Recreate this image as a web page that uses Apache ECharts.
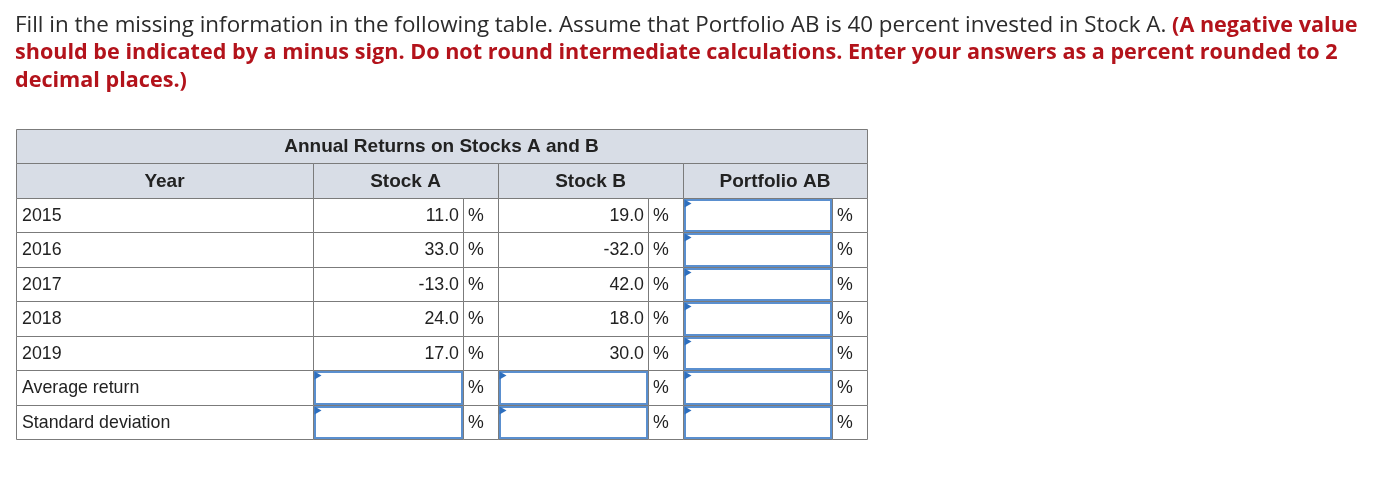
<!DOCTYPE html>
<html>
<head>
<meta charset="utf-8">
<script src="https://cdn.jsdelivr.net/npm/echarts@6/dist/echarts.min.js"></script>
<style>
  html, body { margin: 0; padding: 0; background: #fff; }
  #chart { width: 1396px; height: 486px; }
</style>
</head>
<body>
<div id="chart"></div>
<script>
// table content
const tableTitle = 'Annual Returns on Stocks A and B';
const colHeaders = ['Year', 'Stock A', 'Stock B', 'Portfolio AB'];
const years = ['2015', '2016', '2017', '2018', '2019'];
const stockA = [11.0, 33.0, -13.0, 24.0, 17.0];
const stockB = [19.0, -32.0, 42.0, 18.0, 30.0];
const summaryRows = ['Average return', 'Standard deviation'];
const unit = '%';

// layout: column widths (label, A value, %, B value, %, AB value, %)
const colWidths = [297, 150, 35, 150, 35, 149, 35];
const colEdges = [0];
colWidths.forEach(w => colEdges.push(colEdges[colEdges.length - 1] + w));

const rowNames = ['title', 'head'].concat(years, summaryRows);

// build cells: [colStart, colEnd, rowIndex, text, kind]
const cells = [];
cells.push([0, 7, 0, tableTitle, 'head']);
cells.push([0, 1, 1, colHeaders[0], 'head']);
cells.push([1, 3, 1, colHeaders[1], 'head']);
cells.push([3, 5, 1, colHeaders[2], 'head']);
cells.push([5, 7, 1, colHeaders[3], 'head']);
years.forEach((y, i) => {
  const r = i + 2;
  cells.push([0, 1, r, y, 'label']);
  cells.push([1, 2, r, stockA[i].toFixed(1), 'num']);
  cells.push([2, 3, r, unit, 'pct']);
  cells.push([3, 4, r, stockB[i].toFixed(1), 'num']);
  cells.push([4, 5, r, unit, 'pct']);
  cells.push([5, 6, r, '', 'input']);
  cells.push([6, 7, r, unit, 'pct']);
});
summaryRows.forEach((s, i) => {
  const r = i + 2 + years.length;
  cells.push([0, 1, r, s, 'label']);
  cells.push([1, 2, r, '', 'input']);
  cells.push([2, 3, r, unit, 'pct']);
  cells.push([3, 4, r, '', 'input']);
  cells.push([4, 5, r, unit, 'pct']);
  cells.push([5, 6, r, '', 'input']);
  cells.push([6, 7, r, unit, 'pct']);
});

const tableFont = '"Liberation Sans", Arial, sans-serif';
const px = v => Math.round(v) + 0.5;

function renderCell(params, api) {
  const c = cells[params.dataIndex];
  const x0 = api.coord([colEdges[c[0]], c[2]])[0];
  const x1 = api.coord([colEdges[c[1]], c[2]])[0];
  const yc = api.coord([0, c[2]])[1];
  const h = api.size([0, 1])[1];
  const y0 = yc - h / 2;
  const kind = c[4];
  const left = px(x0), top = px(y0);
  const w = Math.round(x1) - Math.round(x0), hh = Math.round(y0 + h) - Math.round(y0);
  const children = [{
    type: 'rect',
    shape: { x: left, y: top, width: w, height: hh },
    style: { fill: kind === 'head' ? '#d8dde6' : '#fff', stroke: '#7b7b7b', lineWidth: 1 }
  }];
  if (kind === 'input') {
    children.push({
      type: 'rect',
      shape: { x: left + 1.5, y: top + 1.5, width: w - 3, height: hh - 3 },
      style: { fill: '#fff', stroke: '#5a8fcf', lineWidth: 2 }
    });
    children.push({
      type: 'polygon',
      shape: { points: [[left + 1, top + 1], [left + 8, top + 5], [left + 1, top + 9]] },
      style: { fill: '#2e6fbe' }
    });
  } else {
    let tx = (x0 + x1) / 2, align = 'center';
    if (kind === 'label') { tx = x0 + 6; align = 'left'; }
    if (kind === 'num') { tx = x1 - 4; align = 'right'; }
    if (kind === 'pct') { tx = x0 + 5; align = 'left'; }
    children.push({
      type: 'text',
      style: {
        x: tx, y: yc + 1, text: c[3], align: align, verticalAlign: 'middle',
        fill: '#222',
        font: kind === 'head' ? 'bold 19px ' + tableFont : '17.8px ' + tableFont
      }
    });
  }
  return { type: 'group', children: children };
}

const chart = echarts.init(document.getElementById('chart'));
chart.setOption({
  animation: false,
  title: {
    left: 10,
    top: 7,
    text: '{n|Fill in the missing information in the following table. Assume that Portfolio AB is 40 percent invested in Stock A. }{r|(A negative value}\n{r|should be indicated by a minus sign. Do not round intermediate calculations. Enter your answers as a percent rounded to 2}\n{r|decimal places.)}',
    textStyle: {
      fontWeight: 'normal',
      rich: {
        n: { color: '#2b2b2b', fontSize: 22.4, fontWeight: 'normal', fontFamily: '"Open Sans", sans-serif', lineHeight: 27.5 },
        r: { color: '#b3131b', fontSize: 21.6, fontWeight: 'bold', fontFamily: '"Open Sans", sans-serif', lineHeight: 27.5 }
      }
    }
  },
  grid: { left: 16, top: 129, width: colEdges[colEdges.length - 1], height: 310 },
  xAxis: { type: 'value', min: 0, max: colEdges[colEdges.length - 1], show: false },
  yAxis: { type: 'category', data: rowNames, inverse: true, show: false },
  series: [{
    type: 'custom',
    clip: false,
    renderItem: renderCell,
    data: cells.map(c => [colEdges[c[0]], c[2]])
  }]
});
</script>
</body>
</html>
